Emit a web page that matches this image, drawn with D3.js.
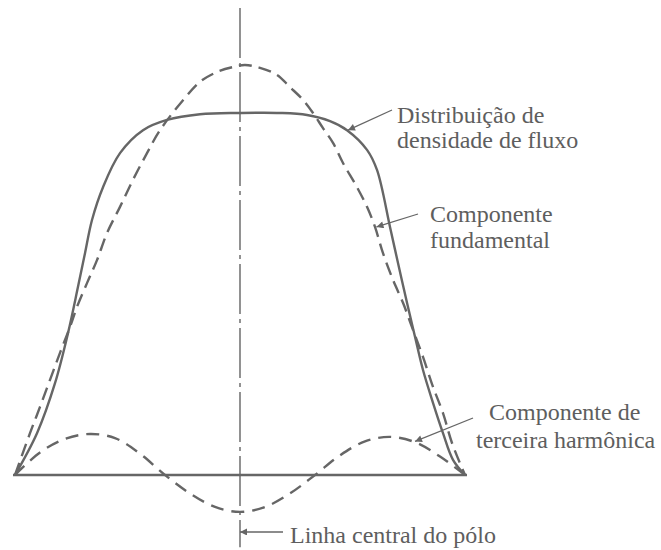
<!DOCTYPE html>
<html>
<head>
<meta charset="utf-8">
<script src="https://cdn.jsdelivr.net/npm/d3@7"></script>
<style>
  html, body { margin: 0; padding: 0; background: #ffffff; }
  svg { display: block; }
  text { font-family: "Liberation Serif", "Times New Roman", serif; fill: #5e5e5e; }
</style>
</head>
<body>
<svg id="chart" width="661" height="550"></svg>
<script>
// Angle along the pole pitch (electrical degrees, 0 = pole centre) and flux density (per unit of fundamental peak)
const fluxAngle = [-90, -81.2, -74.0, -68.8, -64.8, -62.0, -59.2, -54.8, -48.0, -38.8, -29.2, -16, 0,
                   16, 26.8, 36, 42.8, 50.8, 54.8, 60, 63.2, 66.8, 70, 73.2, 77.2, 81.2, 85.2, 90];
const fluxValue = [0, 0.102, 0.224, 0.346, 0.459, 0.541, 0.622, 0.702, 0.785, 0.841, 0.866, 0.880, 0.883,
                   0.883, 0.878, 0.863, 0.841, 0.793, 0.744, 0.605, 0.517, 0.420, 0.337, 0.256, 0.176, 0.102, 0.037, 0];

const fundAngle = [-90, -84, -80, -76, -72, -68, -65.2, -61.2, -57.2, -53.2, -48, -42.8, -37.2, -32,
                   -22, -16, -9.2, -2.8, 2, 8, 14.8, 20, 25.2, 29.2, 33.2, 37.2, 41.2, 46.8, 50.8, 54.0,
                   57.2, 61.2, 65.2, 69.2, 73.2, 77.2, 81.2, 84.8, 90];
const fundValue = [0, 0.102, 0.166, 0.232, 0.298, 0.361, 0.410, 0.468, 0.524, 0.590, 0.654, 0.720, 0.785, 0.841,
                   0.920, 0.959, 0.983, 0.995, 1.0, 0.993, 0.976, 0.946, 0.915, 0.883, 0.846, 0.810, 0.761, 0.702, 0.654, 0.605,
                   0.541, 0.476, 0.420, 0.354, 0.288, 0.215, 0.151, 0.078, 0];

const thirdAngle = [-90, -80, -70, -60, -50, -40, -30, -20, -10, 0, 10, 20, 30, 40, 50, 60, 70, 80, 90];
const thirdValue = [0, 0.055, 0.088, 0.100, 0.090, 0.052, 0.0, -0.045, -0.078, -0.090, -0.078, -0.045, 0.0,
                    0.048, 0.082, 0.093, 0.080, 0.045, 0.0];

// Extent of the pole centre line (per-unit flux density)
const centreLineSpan = [1.139, -0.176];

// Labels: text lines, anchor angle/value on the pointed curve, text position
const labels = [
  { lines: ["Distribuição de", "densidade de fluxo"], tip: [43.2, 0.841], tail: [392, 110], text: [397, 123], lead: 25 },
  { lines: ["Componente", "fundamental"], tip: [54.6, 0.605], tail: [418, 214], text: [430, 222], lead: 26 },
  { lines: ["Componente de"], tip: [70, 0.082], tail: [473, 418], text: [489, 420], lead: 0 },
  { lines: ["terceira harmônica"], tip: null, tail: null, text: [476, 448], lead: 0 },
  { lines: ["Linha central do pólo"], tip: [0, -0.139], tail: [283, 532], text: [290, 543], lead: 0 }
];

const svg = d3.select("#chart");
const x = d3.scaleLinear().domain([-90, 90]).range([15, 465]);
const y = d3.scaleLinear().domain([0, 1]).range([475, 65]);

const ink = "#666666";

const pts = (a, v) => a.map((d, i) => [d, v[i]]);
const smooth = d3.line().x(d => x(d[0])).y(d => y(d[1])).curve(d3.curveCatmullRom.alpha(0.5));

// Arrowhead marker
svg.append("defs").append("marker")
  .attr("id", "arrow")
  .attr("viewBox", "0 0 10 10")
  .attr("refX", 10).attr("refY", 5)
  .attr("markerUnits", "userSpaceOnUse")
  .attr("markerWidth", 10).attr("markerHeight", 7)
  .attr("orient", "auto")
  .append("path").attr("d", "M0,0 L10,5 L0,10 Z").attr("fill", ink);

// Pole centre line (dash-dot)
svg.append("line")
  .attr("x1", x(0)).attr("x2", x(0))
  .attr("y1", y(centreLineSpan[0])).attr("y2", y(centreLineSpan[1]))
  .attr("stroke", "#777").attr("stroke-width", 1.6)
  .attr("stroke-dasharray", "50,5,4,5");

// Zero axis
svg.append("line")
  .attr("x1", x(-90) - 2).attr("x2", x(90) + 2)
  .attr("y1", y(0)).attr("y2", y(0))
  .attr("stroke", ink).attr("stroke-width", 2.4);

// Third harmonic component
svg.append("path")
  .attr("d", smooth(pts(thirdAngle, thirdValue)))
  .attr("fill", "none").attr("stroke", ink).attr("stroke-width", 2.4)
  .attr("stroke-dasharray", "13,8");

// Fundamental component
svg.append("path")
  .attr("d", smooth(pts(fundAngle, fundValue)))
  .attr("fill", "none").attr("stroke", ink).attr("stroke-width", 2.4)
  .attr("stroke-dasharray", "13,7");

// Flux density distribution
svg.append("path")
  .attr("d", smooth(pts(fluxAngle, fluxValue)))
  .attr("fill", "none").attr("stroke", ink).attr("stroke-width", 2.4);

// Labels with leader arrows
labels.forEach(l => {
  if (l.tip) {
    svg.append("line")
      .attr("x1", l.tail[0]).attr("y1", l.tail[1])
      .attr("x2", x(l.tip[0])).attr("y2", y(l.tip[1]))
      .attr("stroke", ink).attr("stroke-width", 1.3)
      .attr("marker-end", "url(#arrow)");
  }
  const t = svg.append("text")
    .attr("x", l.text[0]).attr("y", l.text[1])
    .attr("font-size", 24);
  l.lines.forEach((s, i) => {
    t.append("tspan").attr("x", l.text[0]).attr("dy", i === 0 ? 0 : l.lead).text(s);
  });
});
</script>
</body>
</html>
